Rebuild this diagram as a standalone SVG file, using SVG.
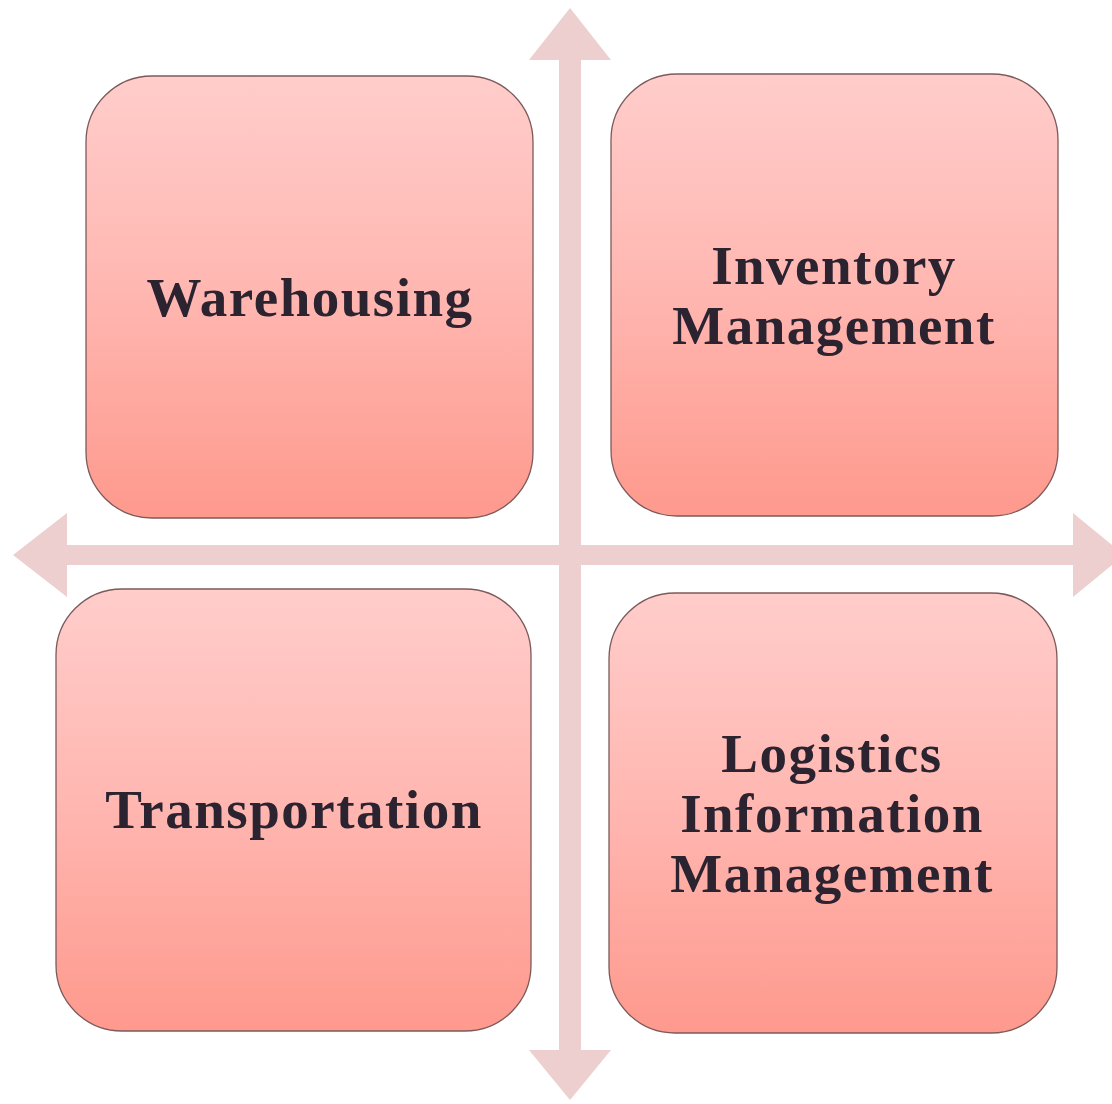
<svg xmlns="http://www.w3.org/2000/svg" width="1112" height="1104" viewBox="0 0 1112 1104">
  <defs>
    <linearGradient id="boxFill" x1="0" y1="0" x2="0" y2="1">
      <stop offset="0" stop-color="#FFCDCB"/>
      <stop offset="0.5" stop-color="#FFB6B0"/>
      <stop offset="1" stop-color="#FE998D"/>
    </linearGradient>
    <style>
      .box { fill: url(#boxFill); stroke: #7d5a5a; stroke-width: 1.3; }
      .axis { fill: #ECCFCE; stroke: none; }
      .label { font-family: "Liberation Serif", "Times New Roman", serif; font-weight: bold; font-size: 55px; letter-spacing: 1.5px; fill: #2b2330; text-anchor: middle; }
    </style>
  </defs>
  <rect width="1112" height="1104" fill="#ffffff"/>

  <!-- crossing double-headed arrows -->
  <g id="connectors">
    <polygon class="axis" points="570,8 611,60 581,60 581,1050 611,1050 570,1100 529,1050 559,1050 559,60 529,60"/>
    <polygon class="axis" points="13,555 67,513 67,545 1073,545 1073,513 1124,555 1073,597 1073,565 67,565 67,597"/>
  </g>

  <g id="warehousing">
    <rect class="box" x="86" y="76" width="447" height="442" rx="66" ry="66"/>
    <text class="label" x="310" y="316">Warehousing</text>
  </g>

  <g id="inventory-management">
    <rect class="box" x="611" y="74" width="447" height="442" rx="66" ry="66"/>
    <text class="label" x="834" y="284">Inventory</text>
    <text class="label" x="834" y="344">Management</text>
  </g>

  <g id="transportation">
    <rect class="box" x="56" y="589" width="475" height="442" rx="66" ry="66"/>
    <text class="label" x="294" y="828">Transportation</text>
  </g>

  <g id="logistics-information-management">
    <rect class="box" x="609" y="593" width="448" height="440" rx="66" ry="66"/>
    <text class="label" x="832" y="772">Logistics</text>
    <text class="label" x="832" y="832">Information</text>
    <text class="label" x="832" y="892">Management</text>
  </g>
</svg>
